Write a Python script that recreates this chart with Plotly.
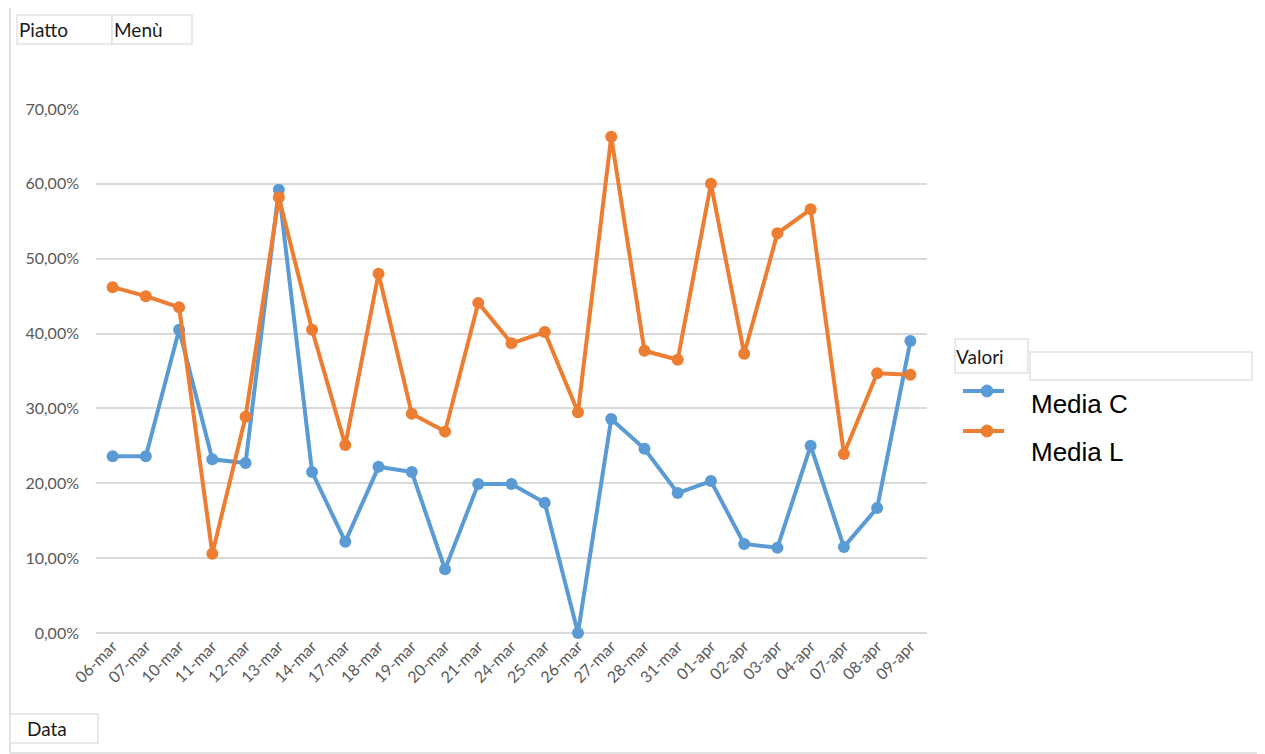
import plotly.graph_objects as go

dates = ["06-mar", "07-mar", "10-mar", "11-mar", "12-mar", "13-mar", "14-mar", "17-mar",
         "18-mar", "19-mar", "20-mar", "21-mar", "24-mar", "25-mar", "26-mar", "27-mar",
         "28-mar", "31-mar", "01-apr", "02-apr", "03-apr", "04-apr", "07-apr", "08-apr", "09-apr"]
media_c = [0.236, 0.236, 0.405, 0.232, 0.227, 0.592, 0.215, 0.122, 0.222, 0.215, 0.085,
           0.199, 0.199, 0.174, 0.000, 0.286, 0.246, 0.187, 0.203, 0.119, 0.114, 0.250,
           0.115, 0.167, 0.390]
media_l = [0.462, 0.450, 0.435, 0.106, 0.289, 0.582, 0.405, 0.251, 0.480, 0.293, 0.269,
           0.441, 0.387, 0.402, 0.295, 0.663, 0.377, 0.365, 0.600, 0.373, 0.534, 0.566,
           0.239, 0.347, 0.345]
series_names = ["Media C", "Media L"]
colors = ["#5B9BD5", "#ED7D31"]

# page body has an 8px margin: work in window pixels, convert to figure pixels
OFF = 8
W, H = 1265 - OFF, 754 - OFF
L, R, T, B = 96 - OFF, 927 - OFF, 109 - OFF, 633 - OFF


def px(x):
    return (x - OFF - L) / (R - L)


def py(y):
    return (B - (y - OFF)) / (B - T)


fig = go.Figure()
for name, vals, col in zip(series_names, [media_c, media_l], colors):
    fig.add_trace(go.Scatter(
        x=dates, y=vals, name=name, mode="lines+markers",
        line=dict(color=col, width=4),
        marker=dict(color=col, size=12),
        cliponaxis=False, showlegend=False,
    ))

shapes = []
annotations = []
grey = "#d9d9d9"

# outer frame
shapes.append(dict(type="rect", xref="paper", yref="paper",
                   x0=px(10), x1=px(1272), y0=py(4), y1=py(753),
                   line=dict(color=grey, width=1.5)))


def button(x0, x1, y0, y1, text, tx, size=19):
    shapes.append(dict(type="rect", xref="paper", yref="paper",
                       x0=px(x0), x1=px(x1), y0=py(y0), y1=py(y1),
                       line=dict(color="#e2e2e2", width=1.5), fillcolor="white"))
    annotations.append(dict(xref="paper", yref="paper", x=px(tx), y=py((y0 + y1) / 2),
                            text=text, showarrow=False, xanchor="left", yanchor="middle",
                            font=dict(family="Lato", size=size, color="#1a1a1a")))


button(17, 112, 15, 44, "Piatto", 17)
button(112, 192, 15, 44, "Menù", 112)
button(10, 98, 714, 743, "Data", 25)
shapes.append(dict(type="rect", xref="paper", yref="paper",
                   x0=px(1030), x1=px(1252), y0=py(352), y1=py(380),
                   line=dict(color="#e2e2e2", width=1.5), fillcolor="white"))
button(955, 1028, 339, 373, "Valori", 954)

# legend
for name, col, ly, ty in zip(series_names, colors, [391, 431], [404, 452]):
    shapes.append(dict(type="line", xref="paper", yref="paper",
                       x0=px(963), x1=px(1004), y0=py(ly), y1=py(ly),
                       line=dict(color=col, width=4)))
    shapes.append(dict(type="circle", xref="paper", yref="paper",
                       x0=px(981), x1=px(993), y0=py(ly - 6), y1=py(ly + 6),
                       line=dict(color=col, width=1), fillcolor=col))
    annotations.append(dict(xref="paper", yref="paper", x=px(1029), y=py(ty),
                            text=name, showarrow=False, xanchor="left", yanchor="middle",
                            font=dict(family="Liberation Sans, Arial", size=26, color="black")))

fig.update_layout(
    width=W, height=H,
    margin=dict(l=L, r=W - R, t=T, b=H - B, pad=0),
    paper_bgcolor="white", plot_bgcolor="white",
    separators=",.",
    shapes=shapes, annotations=annotations,
    xaxis=dict(
        type="category", range=[-0.5, 24.5], tickangle=-45,
        showgrid=False, showline=False, zeroline=False, ticks="",
        tickfont=dict(family="Lato", size=16, color="#595959"),
    ),
    yaxis=dict(
        range=[0, 0.70], dtick=0.10, tick0=0, tickformat=".2%",
        showgrid=True, gridcolor=grey, gridwidth=2,
        zeroline=True, zerolinecolor=grey, zerolinewidth=2,
        showline=False, ticks="", ticklabelstandoff=16,
        tickfont=dict(family="Lato", size=16, color="#595959"),
    ),
)

fig.write_html("out.html")
